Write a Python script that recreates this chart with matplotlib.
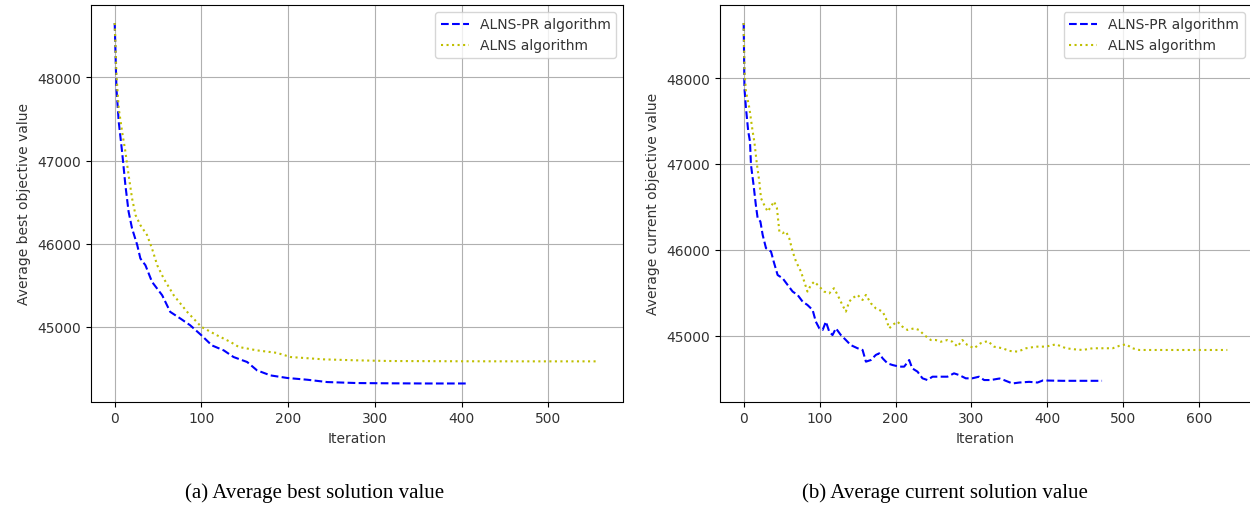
import matplotlib
matplotlib.use("Agg")
import matplotlib.pyplot as plt
import numpy as np

# ---- (a) Average best solution value ----
best_pr_iter = [0, 2, 4.6, 8.5, 12.3, 16, 20, 26, 29.6, 35.4, 43, 54.7, 64, 75.8, 87, 100,
                112, 125.7, 137, 152.7, 164, 179.6, 199, 222, 245, 279.6, 318, 360, 407]
best_pr_val = [48654, 47871, 47470, 47108, 46706, 46386, 46184, 45983, 45823, 45742, 45542,
               45381, 45181, 45100, 45020, 44899, 44778, 44718, 44638, 44578, 44478, 44417,
               44386, 44365, 44337, 44325, 44322, 44320, 44320]

best_alns_iter = [0, 2, 4.6, 8.5, 12.3, 16, 20, 24, 29.6, 37.3, 43, 49, 56.5, 68, 83.5, 100,
                  118, 133.5, 143, 164, 187, 202.7, 241, 279.6, 318, 400, 480, 558]
best_alns_val = [48654, 48031, 47630, 47349, 47108, 46827, 46546, 46345, 46224, 46104, 45943,
                 45742, 45582, 45381, 45181, 45000, 44899, 44819, 44759, 44718, 44688, 44638,
                 44610, 44598, 44590, 44587, 44586, 44586]

# ---- (b) Average current solution value ----
cur_pr_iter = [0, 1, 3, 6, 8.3, 9.6, 13, 16, 18.4, 22, 25, 29.4, 36, 39.5, 44.7, 51.3, 57.9,
               64.5, 71, 77.6, 84, 90.8, 95, 99.6, 104, 108.3, 112.7, 117, 121.5, 128, 134.6,
               141, 150, 156.6, 161, 167.5, 174, 178.5, 183, 189.5, 196, 205, 211.4, 218, 222,
               228.9, 235.5, 242, 248.7, 257.5, 268.4, 277, 283.8, 292.5, 301, 310, 316.7,
               325.4, 337, 343, 354, 363, 376, 387, 394, 420, 472]
cur_pr_val = [48641, 47883, 47650, 47379, 47262, 46990, 46756, 46523, 46368, 46330, 46174,
              46019, 45980, 45864, 45707, 45669, 45591, 45514, 45475, 45397, 45358, 45300,
              45164, 45086, 45067, 45164, 45047, 45008, 45086, 45008, 44950, 44891, 44854,
              44834, 44698, 44717, 44776, 44795, 44737, 44678, 44659, 44640, 44640, 44717,
              44620, 44582, 44504, 44484, 44523, 44523, 44523, 44562, 44542, 44504, 44504,
              44523, 44484, 44484, 44502, 44483, 44444, 44455, 44463, 44455, 44479, 44475,
              44475]

cur_alns_iter = [0, 1, 3, 7.5, 11.8, 14, 17.5, 20.6, 22.8, 27, 31.6, 36, 40, 43.8, 47, 51,
                 55.7, 60, 64.5, 68.9, 75.4, 79.8, 84, 88.6, 93, 99.6, 106, 112.7, 119, 123.7,
                 130, 134.6, 139, 143, 150, 156.6, 161, 167.5, 174, 183, 187.3, 191.7, 196,
                 202.6, 209, 215.8, 224.6, 231, 237.8, 246.5, 253, 259.6, 268.4, 275, 281.6,
                 288, 294.7, 303.5, 312, 321.5, 330, 341, 350, 361, 372, 385, 398, 411.4,
                 424.6, 435.5, 446.5, 459.6, 472.8, 486, 494.7, 503.5, 512, 521, 538.6, 573.7,
                 637]
cur_alns_val = [48641, 48078, 47845, 47650, 47379, 47262, 46990, 46796, 46601, 46523, 46446,
                46504, 46563, 46485, 46213, 46194, 46213, 46135, 45980, 45864, 45747, 45630,
                45514, 45591, 45630, 45572, 45514, 45494, 45553, 45475, 45358, 45281, 45397,
                45436, 45475, 45416, 45475, 45378, 45319, 45281, 45203, 45086, 45125, 45164,
                45106, 45067, 45086, 45067, 45008, 44950, 44950, 44930, 44950, 44930, 44873,
                44950, 44891, 44854, 44912, 44938, 44872, 44854, 44823, 44815, 44854, 44873,
                44873, 44900, 44854, 44842, 44834, 44854, 44854, 44854, 44882, 44900, 44854,
                44834, 44834, 44834, 44834]

labels = ["ALNS-PR algorithm", "ALNS algorithm"]
ylabels = ["Average best objective value", "Average current objective value"]
captions = ["(a) Average best solution value", "(b) Average current solution value"]

W, H = 1250, 510
fig = plt.figure(figsize=(W / 100, H / 100), dpi=100)

def px_axes(x0, x1, y0, y1):
    return fig.add_axes([x0 / W, 1 - y1 / H, (x1 - x0) / W, (y1 - y0) / H])

ax1 = px_axes(90.5, 623, 6, 402.5)
ax2 = px_axes(719.5, 1251.5, 6, 402.5)

for ax, (pi, pv, ai, av), yl in zip(
        [ax1, ax2],
        [(best_pr_iter, best_pr_val, best_alns_iter, best_alns_val),
         (cur_pr_iter, cur_pr_val, cur_alns_iter, cur_alns_val)],
        ylabels):
    ax.plot(pi, pv, "b--", label=labels[0])
    ax.plot(ai, av, "y:", label=labels[1])
    ax.grid(True)
    ax.set_xlabel("Iteration", color="#333333")
    ax.set_ylabel(yl, color="#333333")
    ax.tick_params(labelcolor="#333333")
    ax.set_yticks([45000, 46000, 47000, 48000])
    leg = ax.legend(loc="upper right")
    for t in leg.get_texts():
        t.set_color("#333333")

fig.text(315 / W, 1 - 493 / H, captions[0], family="Liberation Serif",
         fontsize=15, ha="center", va="center")
fig.text(945 / W, 1 - 493 / H, captions[1], family="Liberation Serif",
         fontsize=15, ha="center", va="center")

fig.savefig("out.png", dpi=100)
